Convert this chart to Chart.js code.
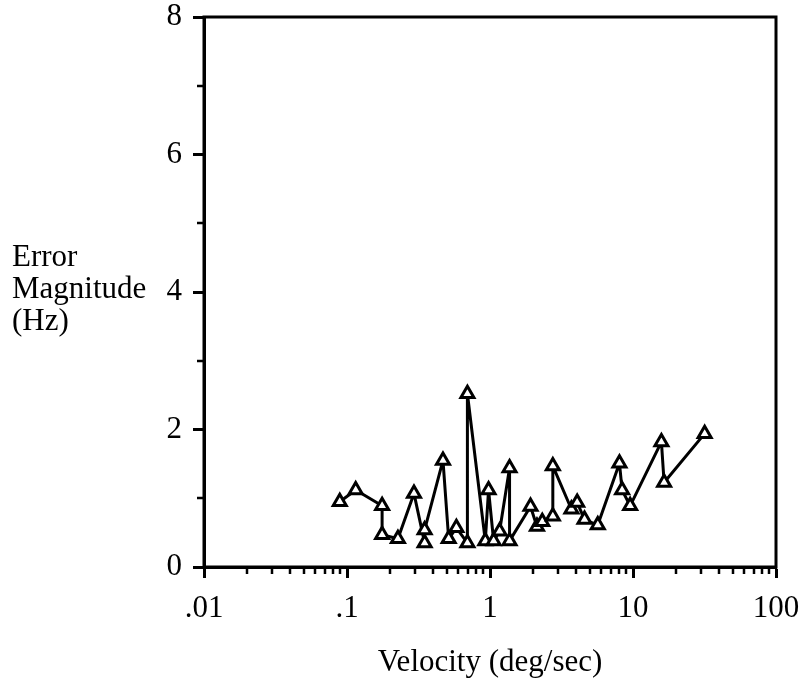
<!DOCTYPE html>
<html>
<head>
<meta charset="utf-8">
<script src="https://cdn.jsdelivr.net/npm/chart.js@4.4.1/dist/chart.umd.min.js"></script>
<style>
body { margin: 0; background: #fff; }
#wrap { position: relative; width: 804px; height: 685px; }
#ytitle {
  position: absolute; left: 12px; top: 240px;
  font-family: "Liberation Serif", serif; font-size: 31px; line-height: 32px; color: #000;
}
</style>
</head>
<body>
<div id="wrap">
  <canvas id="myChart" width="804" height="685"></canvas>
  <div id="ytitle">Error<br>Magnitude<br>(Hz)</div>
</div>
<script>
// velocity (deg/sec) and error magnitude (Hz), in plotting order
const velocity = [0.089, 0.115, 0.176, 0.176, 0.227, 0.294, 0.349, 0.349, 0.469, 0.514,
  0.582, 0.695, 0.695, 0.927, 0.977, 1.06, 1.167, 1.37, 1.37, 1.92,
  2.13, 2.32, 2.75, 2.75, 3.71, 4.07, 4.58, 5.67, 8.04, 8.39,
  9.55, 15.8, 16.5, 31.7]
const errorHz = [0.95, 1.12, 0.89, 0.47, 0.41, 1.07, 0.35, 0.54, 1.55, 0.41,
  0.57, 0.35, 2.52, 0.38, 1.12, 0.38, 0.52, 1.44, 0.38, 0.88,
  0.59, 0.66, 0.74, 1.47, 0.84, 0.94, 0.69, 0.61, 1.51, 1.12,
  0.89, 1.82, 1.23, 1.94]

const xTicks = [0.01, 0.1, 1, 10, 100]
const xTickLabels = ['.01', '.1', '1', '10', '100']
const yTicks = [0, 2, 4, 6, 8]
const yMinor = [1, 3, 5, 7]

const font = { family: 'Liberation Serif', size: 31 }

// box round the plot and the short minor ticks
const frame = {
  id: 'frame',
  afterDraw(chart) {
    const ctx = chart.ctx
    const a = chart.chartArea
    const sx = chart.scales.x
    const sy = chart.scales.y
    ctx.save()
    ctx.strokeStyle = '#000'
    ctx.lineWidth = 3
    ctx.strokeRect(a.left, a.top, a.right - a.left, a.bottom - a.top)
    ctx.lineWidth = 2.5
    ctx.beginPath()
    for (let d = 0; d < xTicks.length - 1; d++) {
      for (let k = 2; k <= 9; k++) {
        const px = Math.round(sx.getPixelForValue(xTicks[d] * k))
        ctx.moveTo(px, a.bottom)
        ctx.lineTo(px, a.bottom + 7)
      }
    }
    yMinor.forEach(v => {
      const py = Math.round(sy.getPixelForValue(v))
      ctx.moveTo(a.left, py)
      ctx.lineTo(a.left - 7, py)
    })
    ctx.stroke()
    ctx.restore()
  }
}

const points = velocity.map((v, i) => ({ x: v, y: errorHz[i] }))

new Chart(document.getElementById('myChart'), {
  type: 'scatter',
  data: {
    datasets: [{
      data: points,
      showLine: true,
      borderColor: '#000',
      borderWidth: 3,
      borderJoinStyle: 'round',
      pointStyle: 'triangle',
      pointRadius: 7.5,
      pointHoverRadius: 7.5,
      pointBorderWidth: 3,
      pointBackgroundColor: '#fff',
      pointBorderColor: '#000'
    }]
  },
  options: {
    responsive: false,
    animation: false,
    layout: { padding: { top: 17, right: 28, left: 0, bottom: 0 } },
    plugins: { legend: { display: false }, tooltip: { enabled: false } },
    scales: {
      x: {
        type: 'logarithmic',
        min: 0.01,
        max: 100,
        afterBuildTicks: s => { s.ticks = xTicks.map(v => ({ value: v })) },
        afterFit: s => { s.height = 118; s.paddingLeft = 0; s.paddingRight = 0 },
        ticks: {
          callback: (v, i) => xTickLabels[i],
          font: font,
          color: '#000',
          maxRotation: 0,
          autoSkip: false,
          padding: 12
        },
        grid: { drawOnChartArea: false, tickLength: 11, tickWidth: 3, tickColor: '#000' },
        border: { width: 3, color: '#000' },
        title: {
          display: true,
          text: 'Velocity (deg/sec)',
          font: { family: 'Liberation Serif', size: 31 },
          color: '#000',
          padding: { top: 20 }
        }
      },
      y: {
        min: 0,
        max: 8,
        afterBuildTicks: s => { s.ticks = yTicks.map(v => ({ value: v })) },
        afterFit: s => { s.width = 204; s.paddingTop = 0; s.paddingBottom = 0 },
        ticks: { font: font, color: '#000', padding: 11 },
        grid: { drawOnChartArea: false, tickLength: 11, tickWidth: 3, tickColor: '#000' },
        border: { width: 3, color: '#000' }
      }
    }
  },
  plugins: [frame]
})
</script>
</body>
</html>
